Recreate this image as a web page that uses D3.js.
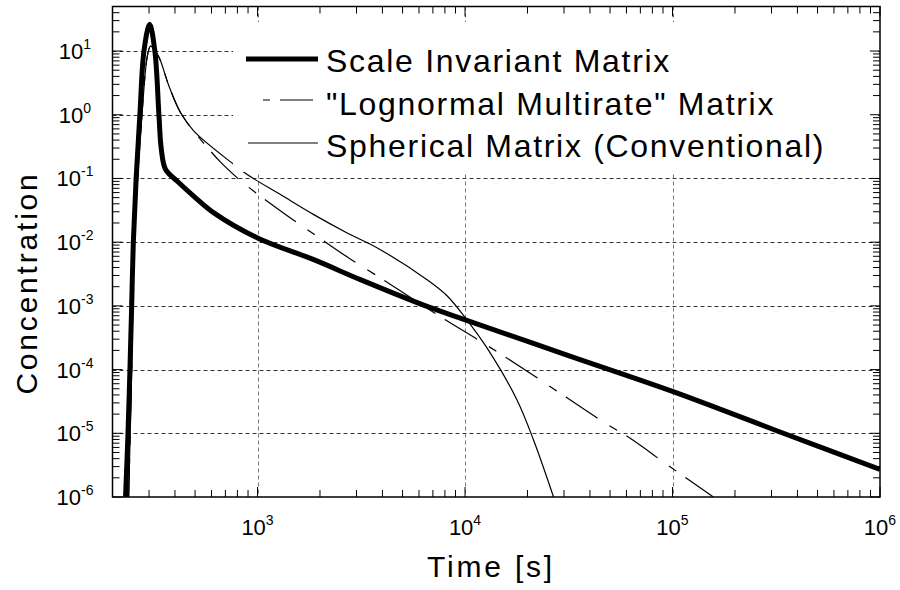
<!DOCTYPE html>
<html>
<head>
<meta charset="utf-8">
<script src="https://cdn.jsdelivr.net/npm/d3@7/dist/d3.min.js"></script>
<style>
  body { margin: 0; background: #fff; }
  svg { display: block; font-family: Arial, "Liberation Sans", sans-serif; }
</style>
</head>
<body>
<div id="chart"></div>
<script>
// values: [time in s, concentration]
const scaleInvariant = [
  [231, 9.5e-7], [237.5, 1e-5], [242.7, 1e-4], [247.4, 1e-3], [252, 1e-2],
  [260, 0.1], [271, 1], [283.6, 10], [302, 26.3], [320, 10], [334.8, 1],
  [343.9, 0.285], [360.6, 0.138], [410.6, 0.0903], [493.5, 0.0525],
  [616, 0.0288], [1000, 0.01164], [1867, 0.00531], [3133, 0.00258],
  [6561, 0.00098], [10034, 6.05e-4], [31770, 1.64e-4], [100700, 4.5e-5],
  [315500, 1.107e-5], [1000000, 2.72e-6]
];
const lognormal = [
  [239.3, 1e-6], [247.4, 1e-4], [254.3, 1e-2], [264.4, 0.1], [278.6, 1.21],
  [294.4, 8.34], [305.3, 12], [328.9, 8.87], [341.2, 6.96], [374.1, 2.82],
  [425.9, 1.075], [493.5, 0.552], [663.7, 0.18], [798.6, 0.1022],
  [960, 0.0629], [1364, 0.0271], [1939, 0.01233], [2752, 0.00565],
  [3985, 0.00264], [5063, 0.00159], [8036, 6.05e-4], [11430, 3.0e-4],
  [15070, 1.7e-4], [23040, 6.89e-5], [47370, 1.44e-5], [62520, 8.34e-6],
  [97360, 2.98e-6], [157400, 1.0e-6]
];
const spherical = [
  [239.3, 1e-6], [247.4, 1e-4], [254.3, 1e-2], [264.4, 0.1], [278.6, 1.21],
  [294.4, 8.34], [305.3, 12], [328.9, 8.87], [341.2, 6.96], [374.1, 2.82],
  [425.9, 1.075], [493.5, 0.552], [769, 0.1655], [892, 0.1151],
  [1290, 0.0558], [1866, 0.02706], [2704, 0.01395], [3910, 0.00762],
  [6561, 0.00257], [8190, 0.00144], [10030, 6.5e-4],
  [12760, 2.19e-4], [17800, 3.34e-5], [21390, 7.85e-6], [26710, 1e-6]
];
const legendLabels = [
  "Scale Invariant Matrix",
  "\"Lognormal Multirate\" Matrix",
  "Spherical Matrix (Conventional)"
];
const xTickExponents = [3, 4, 5, 6];
const yTickExponents = [-6, -5, -4, -3, -2, -1, 0, 1];
const xDomain = [200, 1e6];
const yDomain = [1e-6, 50];

const width = 900, height = 590;
const plot = {left: 112.5, right: 880, top: 6.5, bottom: 497};

const svg = d3.select("#chart").append("svg")
  .attr("width", width)
  .attr("height", height);

svg.append("rect").attr("width", width).attr("height", height).attr("fill", "#fff");

const x = d3.scaleLog().domain(xDomain).range([plot.left, plot.right]);
const y = d3.scaleLog().domain(yDomain).range([plot.bottom, plot.top]);

svg.append("defs").append("clipPath").attr("id", "clip")
  .append("rect")
  .attr("x", plot.left).attr("y", plot.top)
  .attr("width", plot.right - plot.left).attr("height", plot.bottom - plot.top);

// grid
const grid = svg.append("g").attr("stroke-width", 1).attr("stroke-dasharray", "4,3");
grid.selectAll(".hg")
  .data(yTickExponents.filter(e => e > -6))
  .enter().append("line")
  .attr("stroke", "#333")
  .attr("x1", plot.left).attr("x2", plot.right)
  .attr("y1", e => Math.round(y(Math.pow(10, e))) + 0.5)
  .attr("y2", e => Math.round(y(Math.pow(10, e))) + 0.5);
grid.selectAll(".vg")
  .data(xTickExponents.filter(e => e < 6))
  .enter().append("line")
  .attr("stroke", "#777")
  .attr("y1", plot.top).attr("y2", plot.bottom)
  .attr("x1", e => Math.round(x(Math.pow(10, e))) + 0.5)
  .attr("x2", e => Math.round(x(Math.pow(10, e))) + 0.5);

// curves
const line = d3.line()
  .x(d => x(d[0]))
  .y(d => y(d[1]))
  .curve(d3.curveCatmullRom.alpha(0.5));

const curves = svg.append("g").attr("clip-path", "url(#clip)").attr("fill", "none");
curves.append("path").datum(spherical)
  .attr("d", line).attr("stroke", "#000").attr("stroke-width", 1.2);
curves.append("path").datum(lognormal)
  .attr("d", line).attr("stroke", "#000").attr("stroke-width", 1.2)
  .attr("stroke-dasharray", "38,14,9,11");
curves.append("path").datum(scaleInvariant)
  .attr("d", line).attr("stroke", "#000").attr("stroke-width", 5)
  .attr("stroke-linejoin", "round");

// legend box (covers grid and curves)
svg.append("rect")
  .attr("x", 233).attr("y", 22)
  .attr("width", 645).attr("height", 150)
  .attr("fill", "#fff");

const legendRows = [
  {y: 59, base: 72, width: 5, dash: null, x1: 246, x2: 318},
  {y: 100, base: 115, width: 1.2, dash: "7,10,33,12", x1: 263, x2: 318},
  {y: 143, base: 157, width: 1.2, dash: null, x1: 248, x2: 318}
];
const legend = svg.append("g");
legendRows.forEach((r, i) => {
  legend.append("line")
    .attr("x1", r.x1).attr("x2", r.x2)
    .attr("y1", r.y).attr("y2", r.y)
    .attr("stroke", "#000").attr("stroke-width", r.width)
    .attr("stroke-dasharray", r.dash);
  legend.append("text")
    .attr("x", 326).attr("y", r.base)
    .attr("font-size", 32)
    .attr("letter-spacing", 1.7)
    .text(legendLabels[i]);
});

// ticks (inward on all four sides)
const minorX = [], minorY = [];
for (let e = 2; e <= 5; e++) for (let m = 1; m <= 9; m++) {
  const v = m * Math.pow(10, e);
  if (v >= xDomain[0] && v <= xDomain[1]) minorX.push({v, major: m === 1});
}
minorX.push({v: 1e6, major: true});
for (let e = -6; e <= 1; e++) for (let m = 1; m <= 9; m++) {
  const v = m * Math.pow(10, e);
  if (v >= yDomain[0] && v <= yDomain[1]) minorY.push({v, major: m === 1});
}
const ticks = svg.append("g").attr("stroke", "#000").attr("stroke-width", 1);
minorX.forEach(t => {
  const len = t.major ? 10 : 7;
  ticks.append("line").attr("x1", x(t.v)).attr("x2", x(t.v))
    .attr("y1", plot.bottom).attr("y2", plot.bottom - len);
  ticks.append("line").attr("x1", x(t.v)).attr("x2", x(t.v))
    .attr("y1", plot.top).attr("y2", plot.top + len);
});
minorY.forEach(t => {
  const len = t.major ? 10 : 7;
  ticks.append("line").attr("y1", y(t.v)).attr("y2", y(t.v))
    .attr("x1", plot.left).attr("x2", plot.left + len);
  ticks.append("line").attr("y1", y(t.v)).attr("y2", y(t.v))
    .attr("x1", plot.right).attr("x2", plot.right - len);
});

// frame
svg.append("rect")
  .attr("x", plot.left).attr("y", plot.top)
  .attr("width", plot.right - plot.left).attr("height", plot.bottom - plot.top)
  .attr("fill", "none").attr("stroke", "#000").attr("stroke-width", 1.5);

// tick labels
function powLabel(sel, e) {
  sel.append("tspan").text("10");
  sel.append("tspan").attr("dy", -10).attr("font-size", 14).text(e);
}
svg.append("g").selectAll("text")
  .data(xTickExponents)
  .enter().append("text")
  .attr("x", e => x(Math.pow(10, e)))
  .attr("y", 535)
  .attr("text-anchor", "middle")
  .attr("font-size", 22)
  .each(function(e) { powLabel(d3.select(this), e); });

svg.append("g").selectAll("text")
  .data(yTickExponents)
  .enter().append("text")
  .attr("x", 75)
  .attr("y", e => y(Math.pow(10, e)) + 8)
  .attr("text-anchor", "middle")
  .attr("font-size", 22)
  .each(function(e) { powLabel(d3.select(this), e); });

// axis titles
svg.append("text")
  .attr("x", 491).attr("y", 577)
  .attr("text-anchor", "middle")
  .attr("font-size", 30)
  .attr("letter-spacing", 2.8)
  .text("Time [s]");

svg.append("text")
  .attr("transform", "translate(37,283) rotate(-90)")
  .attr("text-anchor", "middle")
  .attr("font-size", 30)
  .attr("letter-spacing", 2.8)
  .text("Concentration");
</script>
</body>
</html>
